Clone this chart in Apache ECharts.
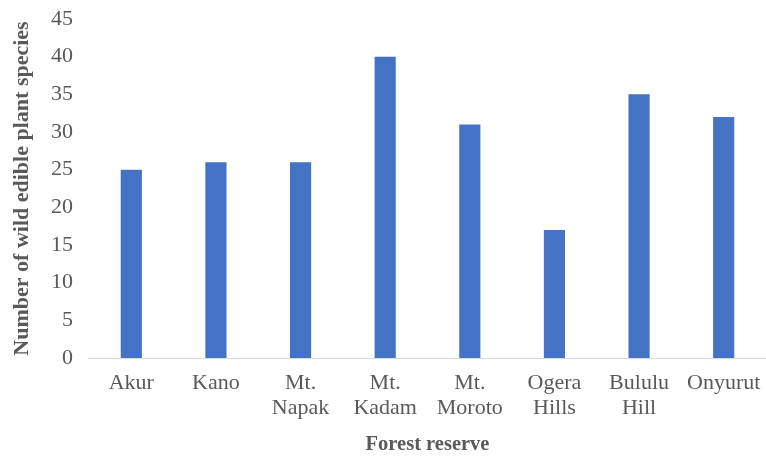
<!DOCTYPE html>
<html><head><meta charset="utf-8">
<script src="https://cdn.jsdelivr.net/npm/echarts@6/dist/echarts.min.js"></script>
<style>html,body{margin:0;padding:0;background:#fff}#c{width:766px;height:457px}</style>
</head><body><div id="c"></div>
<script>
const categories = ["Akur", "Kano", "Mt.\nNapak", "Mt.\nKadam", "Mt.\nMoroto", "Ogera\nHills", "Bululu\nHill", "Onyurut"];
const species = [25, 26, 26, 40, 31, 17, 35, 32];
const yTicks = {min: 0, max: 45, interval: 5};

const font = "'Liberation Serif', 'Times New Roman', serif";
const chart = echarts.init(document.getElementById('c'), null, {renderer: 'canvas'});
chart.setOption({
  animation: false,
  grid: {left: 89, right: 0, top: 19, bottom: 99, containLabel: false, outerBoundsMode: 'none'},
  xAxis: {
    type: 'category', data: categories,
    name: 'Forest reserve', nameLocation: 'middle', nameGap: 76,
    nameTextStyle: {fontFamily: font, fontSize: 20.5, fontWeight: 'bold', color: '#595959'},
    axisLine: {lineStyle: {color: '#d9d9d9', width: 1}},
    axisTick: {show: false},
    axisLabel: {fontFamily: font, fontSize: 22, color: '#595959', margin: 13, lineHeight: 25, interval: 0}
  },
  yAxis: {
    type: 'value', min: yTicks.min, max: yTicks.max, interval: yTicks.interval,
    name: 'Number of wild edible plant species', nameLocation: 'middle', nameGap: 56,
    nameTextStyle: {fontFamily: font, fontSize: 22, fontWeight: 'bold', color: '#595959'},
    axisLine: {show: false}, axisTick: {show: false}, splitLine: {show: false},
    axisLabel: {fontFamily: font, fontSize: 22, color: '#595959', margin: 16}
  },
  series: [{
    type: 'bar', data: species, barWidth: '25%',
    itemStyle: {color: '#4472c4'}
  }]
});
</script></body></html>
